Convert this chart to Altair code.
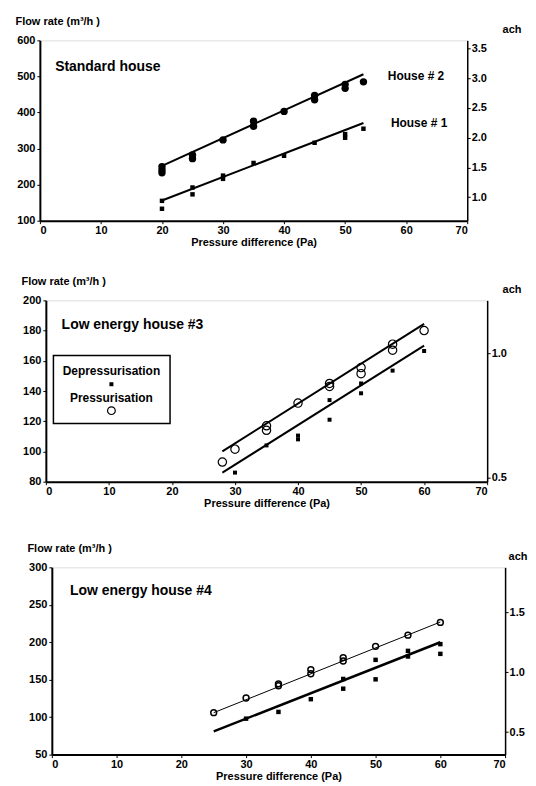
import altair as alt
import pandas as pd

FONT = "Liberation Sans"

# ---------------- Panel 1: Standard house ----------------
P1_H2_X = [20, 20, 20, 25, 25, 30, 35, 35, 40, 45, 45, 50, 50, 53]
P1_H2_Y = [250, 241, 233, 282, 272, 324, 376, 362, 403, 447, 435, 478, 467, 485]
P1_H1_X = [20, 20, 25, 25, 30, 30, 35, 40, 45, 50, 50, 53]
P1_H1_Y = [155, 133, 192, 173, 225, 216, 260, 280, 316, 340, 330, 355]
P1_L2_X = [20, 53]
P1_L2_Y = [252, 506]
P1_L1_X = [20, 53]
P1_L1_Y = [156, 371]
P1_YTICKS = [100, 200, 300, 400, 500, 600]
P1_ACH = [1.0, 1.5, 2.0, 2.5, 3.0, 3.5]
P1_LABELS = ["Standard house", "House # 2", "House # 1"]
P1_LAB_X = [2.5, 57, 57.5]
P1_LAB_Y = [527, 500, 372]
P1_LAB_SIZE = [14, 12, 12]

# ---------------- Panel 2: Low energy house #3 ----------------
P2_PRES_X = [28, 30, 35, 35, 40, 45, 45, 50, 50, 55, 55, 60]
P2_PRES_Y = [93, 101.5, 117, 114, 132, 145, 143, 155.5, 151.5, 171, 167, 180]
P2_DEP_X = [30, 35, 40, 40, 45, 45, 50, 50, 55, 60]
P2_DEP_Y = [86, 104, 110.5, 108, 134, 121, 145, 138.5, 153.5, 166.5]
P2_LP_X = [28, 60]
P2_LP_Y = [100, 184.5]
P2_LD_X = [28, 60]
P2_LD_Y = [86, 170]
P2_YTICKS = [80, 100, 120, 140, 160, 180, 200]
P2_ACH = [0.5, 1.0]
P2_TITLE = "Low energy house #3"
P2_LEGEND_BOX = [1.2, 19.7, 118.5, 163.5]   # x, x2, y, y2 in data units
P2_LEGEND_TEXT = ["Depressurisation", "Pressurisation"]
P2_LEGEND_TEXT_Y = [153.5, 135.5]
P2_LEGEND_MARK_Y = [144.5, 127]
P2_LEGEND_X = 10.4

# ---------------- Panel 3: Low energy house #4 ----------------
P3_C_X = [25, 30, 35, 35, 40, 40, 45, 45, 50, 55, 60]
P3_C_Y = [106, 125.5, 144.5, 142, 163.5, 158, 179.5, 175, 194.5, 209.5, 226.5]
P3_S_X = [30, 35, 40, 45, 45, 50, 50, 55, 55, 60, 60]
P3_S_Y = [98, 107, 124, 138, 151, 150.5, 176.5, 181, 188.5, 197.5, 184.5]
P3_LC_X = [25, 60]
P3_LC_Y = [106, 227]
P3_LS_X = [25, 60]
P3_LS_Y = [81, 200]
P3_YTICKS = [50, 100, 150, 200, 250, 300]
P3_ACH = [0.5, 1.0, 1.5]
P3_TITLE = "Low energy house #4"

X_TICKS = [0, 10, 20, 30, 40, 50, 60, 70]
Y_TITLE = "Flow rate (m³/h )"
X_TITLE = "Pressure difference (Pa)"


def df(x, y):
    return pd.DataFrame({"x": x, "y": y})


def xenc():
    return alt.X("x:Q", scale=alt.Scale(domain=[0, 70], nice=False, zero=False),
                 axis=alt.Axis(values=X_TICKS, title=X_TITLE, grid=False,
                               domainWidth=2, domainColor="black", tickColor="black",
                               tickSize=3, labelPadding=1, titlePadding=1,
                               labelFont=FONT, labelFontWeight="bold", labelFontSize=11,
                               titleFont=FONT, titleFontWeight="bold", titleFontSize=11,
                               labelColor="black", titleColor="black"))


def yenc(dom, ticks):
    sc = alt.Scale(domain=dom, nice=False, zero=False)
    return alt.Y("y:Q", scale=sc,
                 axis=alt.Axis(values=ticks, title=Y_TITLE, grid=False,
                               domainWidth=2, domainColor="black", tickColor="black",
                               tickSize=3, labelPadding=2,
                               labelFont=FONT, labelFontWeight="bold", labelFontSize=11,
                               labelColor="black", titleColor="black",
                               titleFont=FONT, titleFontWeight="bold", titleFontSize=11,
                               titleAngle=0, titleAlign="left", titleBaseline="middle",
                               titleX=-25, titleY=-19))


def ach_layer(ticks, dom, tx):
    return alt.Chart(pd.DataFrame({"ach": ticks})).mark_point(opacity=0).encode(
        y=alt.Y("ach:Q", scale=alt.Scale(domain=dom, nice=False, zero=False),
                axis=alt.Axis(orient="right", values=ticks, format=".1f", title="ach",
                              grid=False, domainWidth=1.5, domainColor="black",
                              tickColor="black", tickSize=3, labelPadding=1,
                              labelFont=FONT, labelFontWeight="bold", labelFontSize=11,
                              labelColor="black", titleColor="black",
                              titleFont=FONT, titleFontWeight="bold", titleFontSize=11,
                              titleAngle=0, titleAlign="left", titleBaseline="middle",
                              titleX=tx, titleY=-11))
    )


def pts(x, y, dom, ticks, **kw):
    return alt.Chart(df(x, y)).mark_point(**kw).encode(x=xenc(), y=yenc(dom, ticks))


def line(x, y, dom, ticks, width):
    return alt.Chart(df(x, y)).mark_line(color="black", strokeWidth=width).encode(
        x=xenc(), y=yenc(dom, ticks))


def spacer(w):
    return alt.Chart(pd.DataFrame({"v": [0]})).mark_point(opacity=0, size=1).properties(
        width=w, height=1, view=alt.ViewBackground(stroke="transparent"))


# ---- panel 1
D1 = [100, 600]
V1 = 165.0
lab1 = alt.Chart(pd.DataFrame({"x": P1_LAB_X, "y": P1_LAB_Y, "t": P1_LABELS, "s": P1_LAB_SIZE})).mark_text(
    align="left", baseline="middle", font=FONT, fontWeight="bold", color="black").encode(
    x=xenc(), y=yenc(D1, P1_YTICKS), text="t:N",
    size=alt.Size("s:Q", scale=None, legend=None))
inner1 = alt.layer(
    line(P1_L2_X, P1_L2_Y, D1, P1_YTICKS, 2),
    line(P1_L1_X, P1_L1_Y, D1, P1_YTICKS, 2),
    pts(P1_H2_X, P1_H2_Y, D1, P1_YTICKS, shape="circle", filled=True,
        color="black", size=55, opacity=1),
    pts(P1_H1_X, P1_H1_Y, D1, P1_YTICKS, shape="square", filled=True,
        color="black", size=20, opacity=1),
    lab1,
)
panel1 = alt.layer(inner1, ach_layer(P1_ACH, [D1[0] / V1, D1[1] / V1], 35)).resolve_scale(
    y="independent").properties(width=429, height=181)

# ---- panel 2
D2 = [80, 200]
V2 = 165.0
box = alt.Chart(pd.DataFrame({"x": [P2_LEGEND_BOX[0]], "x2": [P2_LEGEND_BOX[1]],
                              "y": [P2_LEGEND_BOX[2]], "y2": [P2_LEGEND_BOX[3]]})).mark_rect(
    fill="white", stroke="black", strokeWidth=1.5).encode(
    x=xenc(), x2="x2:Q", y=yenc(D2, P2_YTICKS), y2="y2:Q")
legtext = alt.Chart(pd.DataFrame({"x": [P2_LEGEND_X] * 2, "y": P2_LEGEND_TEXT_Y, "t": P2_LEGEND_TEXT})).mark_text(
    align="center", baseline="middle", font=FONT, fontWeight="bold", fontSize=12, color="black").encode(
    x=xenc(), y=yenc(D2, P2_YTICKS), text="t:N")
title2 = alt.Chart(pd.DataFrame({"x": [2.5], "y": [184], "t": [P2_TITLE]})).mark_text(
    align="left", baseline="middle", font=FONT, fontWeight="bold", fontSize=14, color="black").encode(
    x=xenc(), y=yenc(D2, P2_YTICKS), text="t:N")
inner2 = alt.layer(
    line(P2_LP_X, P2_LP_Y, D2, P2_YTICKS, 2),
    line(P2_LD_X, P2_LD_Y, D2, P2_YTICKS, 2),
    pts(P2_PRES_X, P2_PRES_Y, D2, P2_YTICKS, shape="circle", filled=False,
        color="black", size=70, strokeWidth=1.2, opacity=1),
    pts(P2_DEP_X, P2_DEP_Y, D2, P2_YTICKS, shape="square", filled=True,
        color="black", size=16, opacity=1),
    box,
    legtext,
    pts([P2_LEGEND_X], [P2_LEGEND_MARK_Y[0]], D2, P2_YTICKS, shape="square", filled=True,
        color="black", size=16, opacity=1),
    pts([P2_LEGEND_X], [P2_LEGEND_MARK_Y[1]], D2, P2_YTICKS, shape="circle", filled=False,
        color="black", size=60, strokeWidth=1.2, opacity=1),
    title2,
)
panel2 = alt.layer(inner2, ach_layer(P2_ACH, [D2[0] / V2, D2[1] / V2], 15)).resolve_scale(
    y="independent").properties(width=443, height=182)

# ---- panel 3
D3 = [50, 300]
V3 = 160.0
title3 = alt.Chart(pd.DataFrame({"x": [2.8], "y": [268], "t": [P3_TITLE]})).mark_text(
    align="left", baseline="middle", font=FONT, fontWeight="bold", fontSize=14, color="black").encode(
    x=xenc(), y=yenc(D3, P3_YTICKS), text="t:N")
inner3 = alt.layer(
    line(P3_LC_X, P3_LC_Y, D3, P3_YTICKS, 1),
    line(P3_LS_X, P3_LS_Y, D3, P3_YTICKS, 2.5),
    pts(P3_C_X, P3_C_Y, D3, P3_YTICKS, shape="circle", filled=False,
        color="black", size=35, strokeWidth=1.5, opacity=1),
    pts(P3_S_X, P3_S_Y, D3, P3_YTICKS, shape="square", filled=True,
        color="black", size=20, opacity=1),
    title3,
)
panel3 = alt.layer(inner3, ach_layer(P3_ACH, [D3[0] / V3, D3[1] / V3], 3)).resolve_scale(
    y="independent").properties(width=455, height=188)

top_two = alt.vconcat(
    alt.hconcat(spacer(1), panel1, spacing=0),
    alt.hconcat(spacer(7), panel2, spacing=0),
    spacing=26,
)
chart = alt.vconcat(
    top_two,
    alt.hconcat(spacer(13), panel3, spacing=0),
    spacing=32,
).properties(padding={"left": 3, "top": 5, "right": 0, "bottom": 0}).configure_view(
    stroke="black", strokeWidth=1).configure(background="white")

chart.save("out.html", embed_options={"renderer": "svg", "actions": False})
